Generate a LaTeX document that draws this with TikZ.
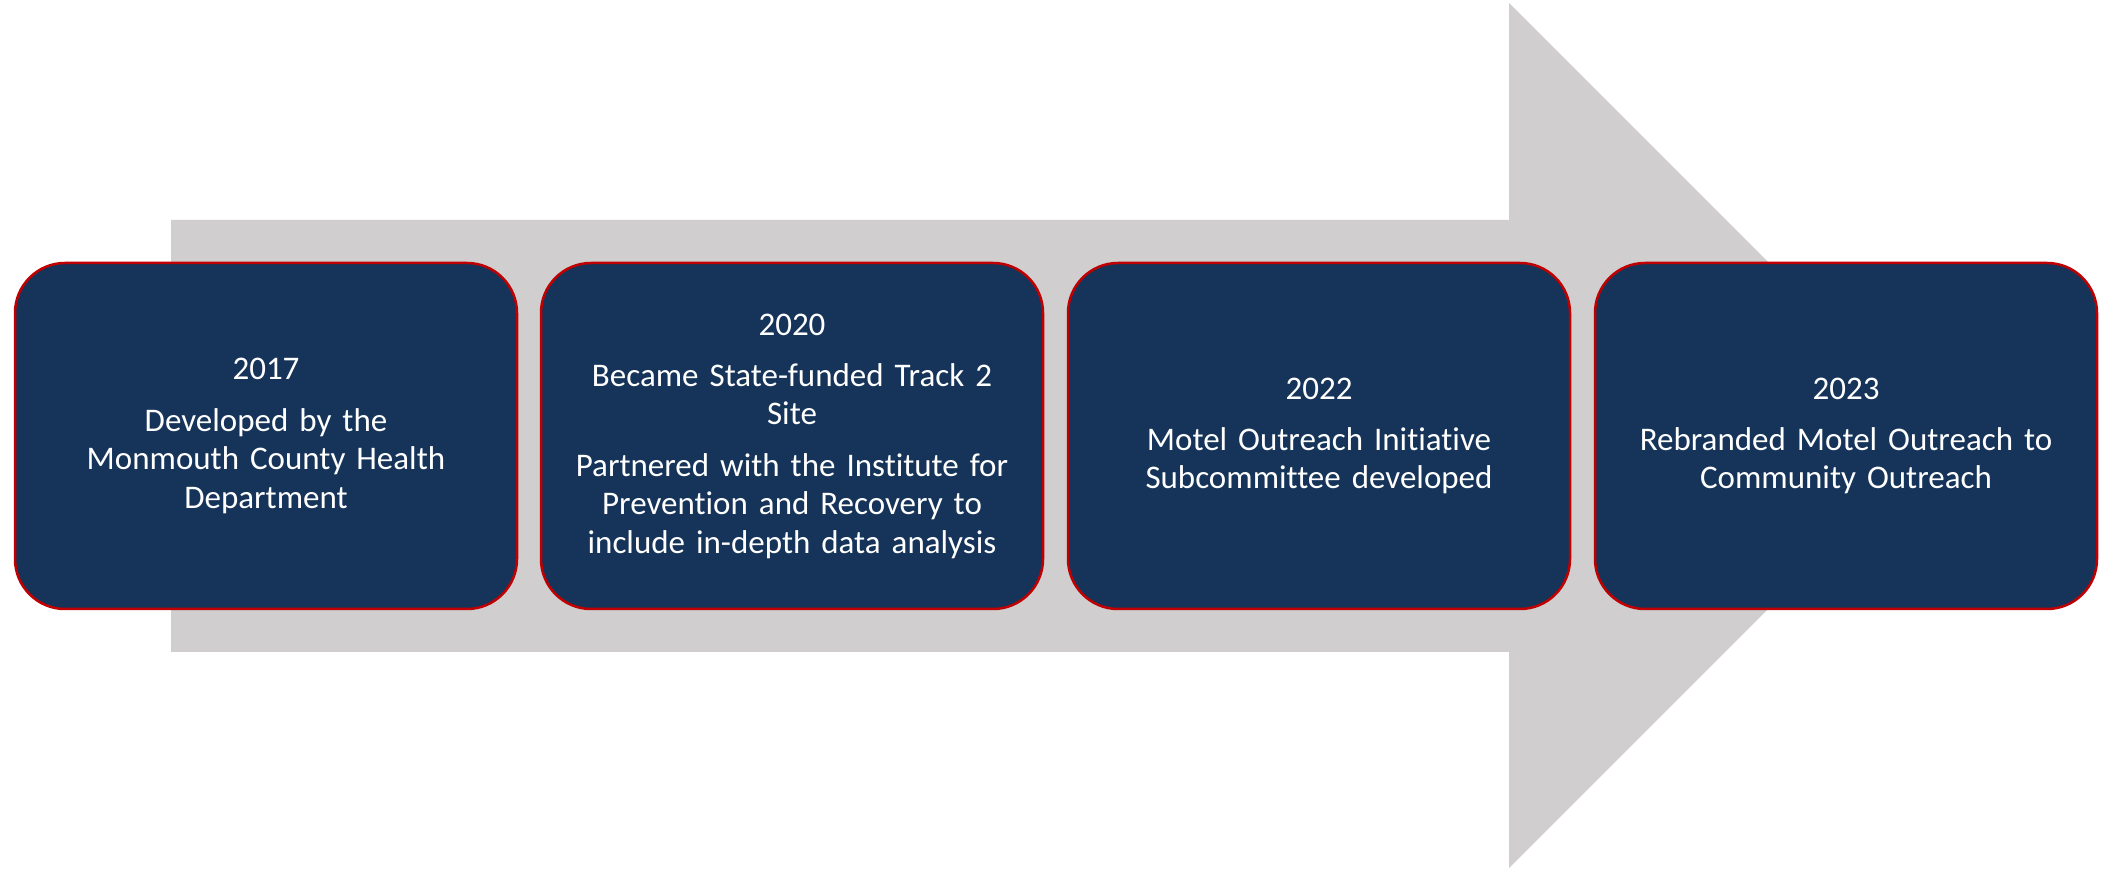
\documentclass[tikz,border=0pt]{standalone}
\usepackage{fontspec}
\setmainfont{Carlito}[Ligatures={NoCommon}]
\definecolor{navy}{HTML}{163459}
\definecolor{boxred}{HTML}{C00000}
\definecolor{arrowgray}{HTML}{D0CECE}
\begin{document}
\begin{tikzpicture}[x=1pt,y=1pt,
  yearbox/.style={draw=boxred, line width=2.5pt, fill=navy, rounded corners=50pt,
    minimum width=502pt, minimum height=346pt, inner sep=0pt, text=white,
    align=center, text width=480pt,
    font=\fontsize{33}{38.4}\selectfont}]
\useasboundingbox (0,0) rectangle (2113,868);
\fill[arrowgray] (171,216) -- (171,648) -- (1509,648) -- (1509,865) -- (1941.5,432.5)
  -- (1509,0) -- (1509,216) -- cycle;
\node[yearbox] (b1) at (266,432) {2017\\[13pt]Developed by the\\Monmouth County Health\\Department};
\node[yearbox] (b2) at (792,432) {2020\\[13pt]Became State-funded Track 2\\Site\\[13pt]Partnered with the Institute for\\Prevention and Recovery to\\include in-depth data analysis};
\node[yearbox] (b3) at (1319,432) {2022\\[13pt]Motel Outreach Initiative\\Subcommittee developed};
\node[yearbox] (b4) at (1846,432) {2023\\[13pt]Rebranded Motel Outreach to\\Community Outreach};
\end{tikzpicture}
\end{document}
